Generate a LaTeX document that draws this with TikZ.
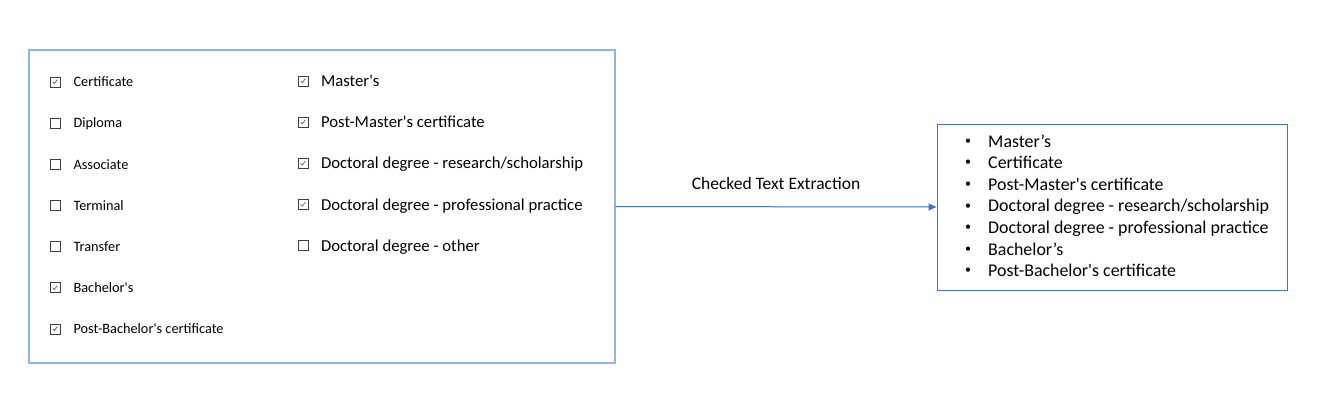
\documentclass[tikz,border=0pt]{standalone}
\usepackage{fontspec}
\setmainfont{Carlito}[Ligatures=TeXOff]
\usepackage{tikz}
\usetikzlibrary{arrows.meta,positioning}
\definecolor{paleblue}{HTML}{8FB4E3}
\definecolor{linkblue}{HTML}{4472C4}

\begin{document}
\begin{tikzpicture}[
  x=1pt, y=-1pt,
  frame/.style={draw=paleblue, line width=1.1pt, minimum width=586pt,
    minimum height=313pt, inner sep=0pt},
  listbox/.style={draw=linkblue, line width=1pt, minimum width=350pt,
    minimum height=166pt, inner sep=0pt},
  emptybox/.style={draw=black!75, line width=0.8pt, minimum size=10pt, inner sep=0pt},
  tickbox/.style={emptybox, path picture={
      \draw[line width=0.5pt, black!80]
        ([shift={(-2.3pt,0.2pt)}]path picture bounding box.center)
        -- ([shift={(-0.7pt,-1.7pt)}]path picture bounding box.center)
        -- ([shift={(2.3pt,2.3pt)}]path picture bounding box.center);}},
  small/.style={inner sep=0pt, text height=0.7em, text depth=0.2em,
    font=\fontsize{14.3}{16}\selectfont},
  medium/.style={inner sep=0pt, text height=0.7em, text depth=0.2em,
    font=\fontsize{16.7}{19}\selectfont},
  item/.style={anchor=base west, inner sep=0pt, font=\fontsize{17.9}{20}\selectfont},
  dot/.style={inner sep=0pt, font=\fontsize{12}{14}\selectfont},
  arrow/.style={-{Triangle[length=8pt, width=7pt]}, draw=linkblue, fill=linkblue, line width=1pt}
]
\useasboundingbox (0,0) rectangle (1335,413);

\node[frame] (form) at (322,206.5) {};
\node[listbox] (extract) at (1112,207) {};

% checkboxes, first column
\foreach \lbl/\st [count=\i from 0] in {Certificate/tickbox, Diploma/emptybox,
    Associate/emptybox, Terminal/emptybox, Transfer/emptybox,
    Bachelor's/tickbox, Post-Bachelor's certificate/tickbox}{
  \node[\st] (la\i) at (55,{82+41.17*\i}) {};
  \node[small, right=13pt of la\i, yshift=-2.3pt] (ta\i) {\lbl};
}

% checkboxes, second column
\foreach \lbl/\st [count=\i from 0] in {Master's/tickbox,
    Post-Master's certificate/tickbox,
    {Doctoral degree - research/scholarship}/tickbox,
    Doctoral degree - professional practice/tickbox,
    Doctoral degree - other/emptybox}{
  \node[\st] (lb\i) at (303,{81+41.2*\i}) {};
  \node[medium, right=12.5pt of lb\i, yshift=-3pt] (tb\i) {\lbl};
}

% extracted list
\foreach \lbl [count=\i from 0] in {Master’s, Certificate, Post-Master's certificate,
    Doctoral degree - research/scholarship, Doctoral degree - professional practice,
    Bachelor’s, Post-Bachelor's certificate}{
  \node[item] (it\i) at (988,{147+21.6*\i}) {\lbl};
  \node[dot] (dot\i) at (968,{141.5+21.6*\i}) {•};
}

\draw[arrow] (form.east) -- (extract.west)
  node[midway, above=17pt, inner sep=0pt, font=\fontsize{17.5}{20}\selectfont] (step1) {Checked Text Extraction};
\end{tikzpicture}
\end{document}
